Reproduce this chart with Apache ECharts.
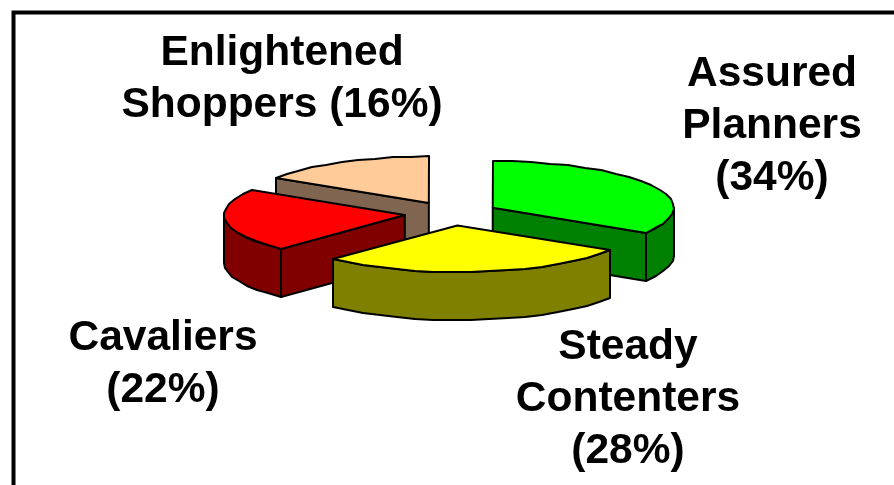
<!DOCTYPE html>
<html>
<head>
<meta charset="utf-8">
<title>Shopper segments</title>
<style>
  html, body { margin: 0; padding: 0; background: #fff; overflow: hidden; }
  #chart { width: 894px; height: 485px; }
</style>
<script src="https://cdn.jsdelivr.net/npm/echarts@6/dist/echarts.min.js"></script>
</head>
<body>
<div id="chart"></div>
<script>
// slices go clockwise from 12 o'clock
var categories = ['Assured Planners', 'Steady Contenters', 'Cavaliers', 'Enlightened Shoppers'];
var shares = [34, 28, 22, 16];
var labelTexts = ['Assured\nPlanners\n(34%)', 'Steady\nContenters\n(28%)', 'Cavaliers\n(22%)', 'Enlightened\nShoppers (16%)'];
var topColors = ['#00ff00', '#ffff00', '#ff0000', '#ffcc99'];
var wallColors = ['#008000', '#808000', '#800000', '#806650'];

// layout of the tilted pie, in pixels
var pie = { cx: 451.5, cy: 213.5, rx: 181, ry: 46.5, depth: 48, explode: 0.26, step: 6 };
var labelCenters = [[772, 126], [628, 399], [163, 364], [282, 79]];

var total = shares.reduce(function (a, b) { return a + b; }, 0);
var slices = [];
var acc = 0;
shares.forEach(function (v, i) {
  var a0 = acc / total * 360;
  acc += v;
  slices.push({ index: i, a0: a0, a1: acc / total * 360 });
});
// paint from back to front
var order = slices.slice().sort(function (p, q) {
  return Math.cos(rad((q.a0 + q.a1) / 2)) - Math.cos(rad((p.a0 + p.a1) / 2)) < 0 ? -1 : 1;
});

function rad(d) { return d * Math.PI / 180; }

function rimPoint(c, deg, drop) {
  // rounded to whole pixels, the original outline is stepped as well
  return [
    Math.round(c[0] + pie.rx * Math.sin(rad(deg))),
    Math.round(c[1] - pie.ry * Math.cos(rad(deg)) + drop)
  ];
}

function arcPoints(c, a0, a1, drop) {
  var pts = [];
  var n = Math.max(1, Math.round((a1 - a0) / pie.step));
  for (var k = 0; k <= n; k++) {
    pts.push(rimPoint(c, a0 + (a1 - a0) * k / n, drop));
  }
  return pts;
}

function poly(points, fill) {
  return {
    type: 'polygon',
    shape: { points: points },
    style: { fill: fill, stroke: '#000', lineWidth: 2, lineJoin: 'round' }
  };
}

function edgeWall(c, deg, fill) {
  var p = rimPoint(c, deg, 0);
  var q = rimPoint(c, deg, pie.depth);
  return poly([c, p, q, [c[0], c[1] + pie.depth]], fill);
}

function renderSlice(params) {
  var s = order[params.dataIndex];
  var mid = rad((s.a0 + s.a1) / 2);
  var c = [
    pie.cx + pie.explode * pie.rx * Math.sin(mid),
    pie.cy - pie.explode * pie.ry * Math.cos(mid)
  ];
  var wall = wallColors[s.index];
  var children = [];
  // a cut face shows only when it turns towards the viewer
  if (Math.sin(rad(s.a0)) < -1e-6) children.push(edgeWall(c, s.a0, wall));
  if (Math.sin(rad(s.a1)) > 1e-6) children.push(edgeWall(c, s.a1, wall));
  var w0 = Math.max(s.a0, 90);
  var w1 = Math.min(s.a1, 270);
  if (w1 > w0) {
    children.push(poly(arcPoints(c, w0, w1, 0).concat(arcPoints(c, w0, w1, pie.depth).reverse()), wall));
  }
  children.push(poly([c].concat(arcPoints(c, s.a0, s.a1, 0)), topColors[s.index]));
  return { type: 'group', children: children };
}

var myChart = echarts.init(document.getElementById('chart'), null, { renderer: 'canvas' });
var option = {
  animation: false,
  backgroundColor: '#fff',
  graphic: [
    {
      // frame runs off the right and bottom of the picture
      type: 'rect',
      silent: true,
      shape: { x: 13.5, y: 12.5, width: 1200, height: 800 },
      style: { fill: 'transparent', stroke: '#000', lineWidth: 4 }
    }
  ].concat(labelTexts.map(function (t, i) {
    return {
      type: 'text',
      silent: true,
      x: labelCenters[i][0],
      y: labelCenters[i][1],
      style: {
        text: t,
        fill: '#000',
        font: 'bold 42.5px "Liberation Sans", Arial, sans-serif',
        lineHeight: 52,
        align: 'center',
        verticalAlign: 'middle'
      }
    };
  })),
  series: [
    {
      type: 'custom',
      coordinateSystem: 'none',
      silent: true,
      renderItem: renderSlice,
      data: order.map(function (s) { return { name: categories[s.index], value: shares[s.index] }; })
    }
  ]
};
myChart.setOption(option);
window.onresize = myChart.resize;
</script>
</body>
</html>
